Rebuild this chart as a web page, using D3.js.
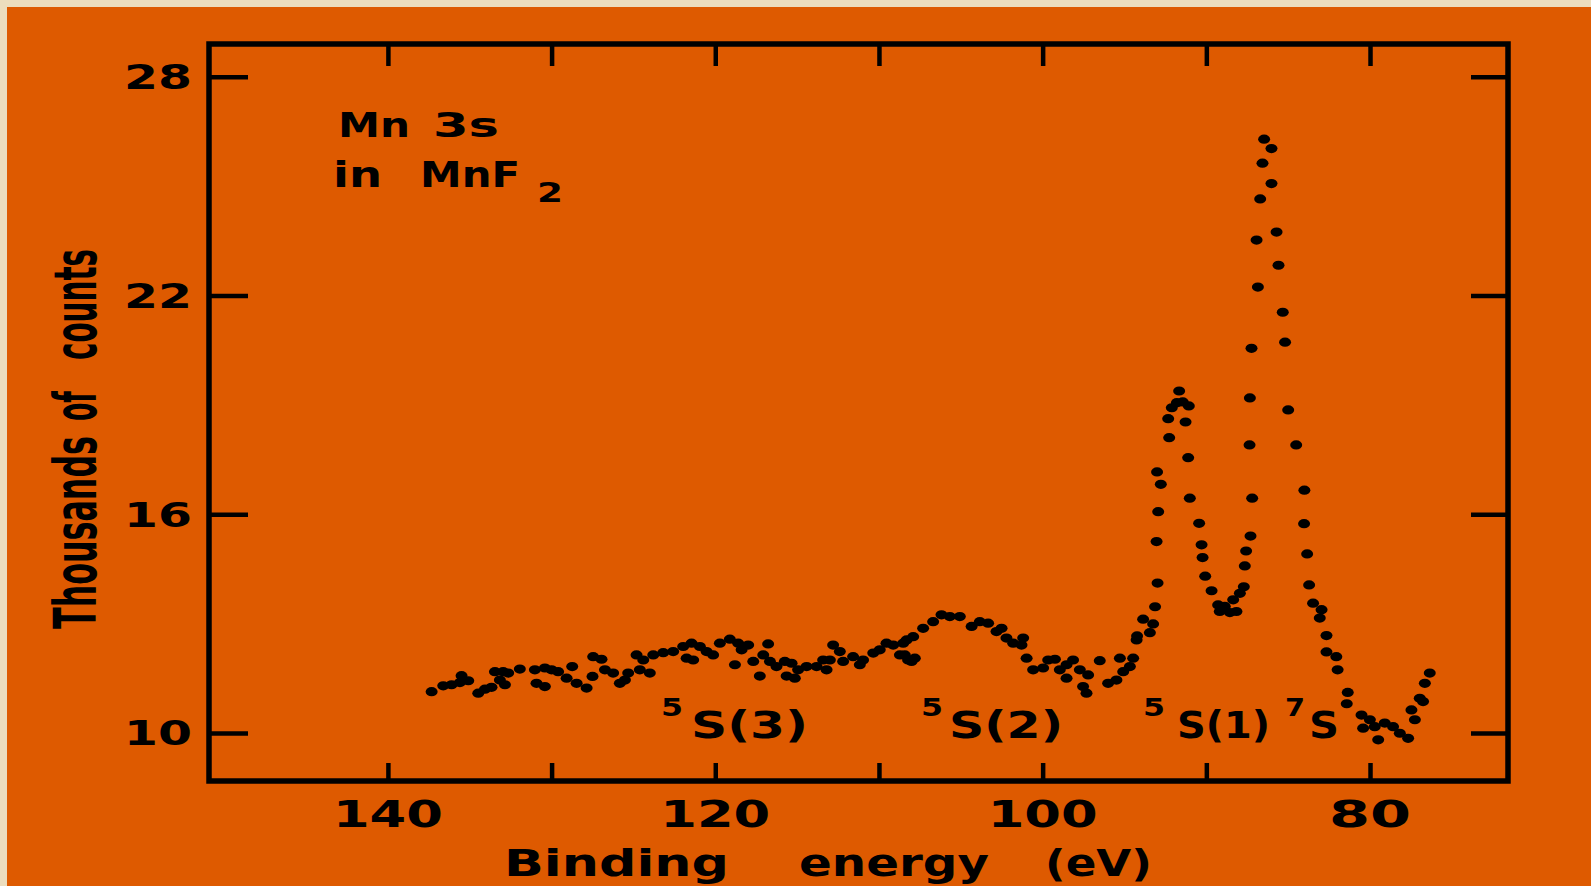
<!DOCTYPE html>
<html>
<head>
<meta charset="utf-8">
<script src="https://cdn.jsdelivr.net/npm/d3@7"></script>
<style>
  html, body { margin: 0; padding: 0; background: #ECDDBD; }
  svg { display: block; }
  text { font-family: "DejaVu Sans", sans-serif; font-weight: bold; fill: #000; }
</style>
</head>
<body>
<svg id="chart" width="1591" height="886"></svg>
<script>
// ---- data ----
const energy = [137.33,136.62,136.11,135.60,135.50,135.09,134.48,134.07,133.67,133.46,
133.16,132.96,132.85,132.65,131.94,131.02,130.92,130.41,130.41,130.00,
129.60,129.08,128.74,128.47,127.86,127.50,127.46,126.95,126.74,126.24,
125.83,125.52,125.32,124.81,124.61,124.40,124.00,123.79,123.18,
122.57,121.96,121.75,121.45,121.35,120.94,120.53,120.13,119.72,119.11,
118.80,118.60,118.39,117.99,117.68,117.28,117.07,116.77,116.66,116.26,
115.75,115.64,115.34,115.14,114.94,114.42,113.81,113.41,113.20,113.00,
112.80,112.39,112.19,111.58,111.17,110.97,110.35,109.95,109.54,109.13,
108.72,108.52,108.42,108.31,108.22,108.01,107.91,107.81,107.30,106.69,
106.18,105.67,105.06,104.34,103.84,103.33,102.82,102.51,102.21,101.80,
101.29,101.19,100.98,100.58,99.97,99.66,99.25,98.95,98.54,98.54,
98.14,97.73,97.53,97.32,97.22,96.51,96.00,95.49,95.28,95.08,
94.67,94.47,94.26,94.23,93.86,93.45,93.25,93.13,92.98,93.04,
92.94,92.78,93.01,92.27,92.33,92.11,91.80,91.66,91.44,91.07,
91.27,91.11,91.01,90.44,90.29,90.23,90.07,89.68,89.28,89.18,
88.87,88.56,88.36,88.16,87.95,87.71,87.65,87.57,87.30,87.20,
87.36,87.34,87.24,86.85,86.93,86.71,86.57,86.47,86.02,86.02,
85.71,85.59,85.33,85.19,85.00,84.51,84.01,84.03,83.84,83.72,
83.48,82.96,83.07,82.66,82.66,82.06,81.98,81.36,81.42,80.52,
80.42,80.01,79.71,79.50,79.10,78.59,78.18,77.67,77.47,77.26,
76.96,76.76,76.65,76.35];

const counts = [11.13,11.29,11.32,11.38,11.57,11.43,11.09,11.20,11.25,11.68,
11.45,11.68,11.32,11.64,11.75,11.73,11.36,11.78,11.27,11.73,
11.68,11.50,11.82,11.36,11.23,11.55,12.09,12.02,11.73,11.64,
11.36,11.45,11.64,12.14,11.73,12.00,11.64,12.14,12.20,
12.23,12.37,12.05,12.46,12.00,12.37,12.23,12.14,12.46,12.57,
11.87,12.46,12.28,12.41,11.96,11.56,12.14,12.44,11.96,11.82,
11.96,11.56,11.91,11.50,11.73,11.82,11.82,12.00,11.73,12.00,
12.41,12.23,11.96,12.09,11.87,12.00,12.19,12.28,12.46,12.41,
12.14,12.46,12.14,12.55,12.00,11.96,12.64,12.05,12.87,13.05,
13.24,13.19,13.19,12.92,13.05,13.01,12.78,12.87,12.60,12.46,
12.41,12.60,12.05,11.73,11.78,12.00,12.02,11.73,11.87,11.50,
12.00,11.73,11.27,11.09,11.59,11.98,11.36,11.45,12.05,11.68,
11.82,12.05,12.55,12.66,13.12,12.75,12.99,13.46,14.11,15.25,
16.07,16.82,17.16,18.10,18.62,18.92,19.06,19.38,19.08,18.97,
18.53,17.55,16.44,15.75,15.16,14.81,14.30,13.90,13.51,13.33,
13.47,13.30,13.65,13.33,13.83,14.01,14.58,14.99,15.40,16.44,
17.90,19.19,20.55,22.23,23.52,24.65,25.63,26.29,26.03,25.07,
23.74,22.83,21.54,20.72,18.86,17.90,16.66,15.74,14.91,14.06,
13.56,13.38,13.15,12.67,12.22,12.09,11.73,11.11,10.80,10.49,
10.13,10.36,10.17,9.81,10.27,10.17,9.99,9.85,10.63,10.36,
10.95,10.86,11.36,11.64];

const xTickValues = [140, 130, 120, 110, 100, 90, 80];
const xTickLabels = [140, 120, 100, 80];
const yTickValues = [28, 22, 16, 10];
const xTitleWords = ["Binding", "energy", "(eV)"];
const yTitleWords = ["Thousands", "of", "counts"];
const peakSup = ["5", "5", "5", "7"];
const peakNames = ["S(3)", "S(2)", "S(1)", "S"];

// ---- layout ----
const W = 1591, H = 886;
const L = 209, R = 1508, T = 44, B = 781;
const svg = d3.select("#chart");

svg.append("rect").attr("x", 0).attr("y", 0).attr("width", W).attr("height", H).attr("fill", "#ECDDBD");
svg.append("rect").attr("x", 7).attr("y", 7).attr("width", W - 7).attr("height", H - 7).attr("fill", "#DE5A00");

const x = d3.scaleLinear().domain([150.93, 71.57]).range([L, R]);
const y = d3.scaleLinear().domain([8.68, 28.9]).range([B, T]);

function styleAxis(g) {
  g.select(".domain").remove();
  g.selectAll(".tick line").attr("stroke", "#000").attr("stroke-width", 4.5);
  g.selectAll(".tick text").remove();
}
svg.append("g").attr("transform", `translate(0,${B})`)
  .call(d3.axisBottom(x).tickValues(xTickValues).tickSizeInner(-18).tickSizeOuter(0)).call(styleAxis);
svg.append("g").attr("transform", `translate(0,${T})`)
  .call(d3.axisTop(x).tickValues(xTickValues).tickSizeInner(-22).tickSizeOuter(0)).call(styleAxis);
svg.append("g").attr("transform", `translate(${L},0)`)
  .call(d3.axisLeft(y).tickValues(yTickValues).tickSizeInner(-39).tickSizeOuter(0)).call(styleAxis);
svg.append("g").attr("transform", `translate(${R},0)`)
  .call(d3.axisRight(y).tickValues(yTickValues).tickSizeInner(-37).tickSizeOuter(0)).call(styleAxis);

// frame
svg.append("rect").attr("x", L).attr("y", T).attr("width", R - L).attr("height", B - T)
  .attr("fill", "none").attr("stroke", "#000").attr("stroke-width", 5.5);

// tick labels
svg.append("g").selectAll("text").data(yTickValues).join("text")
  .attr("x", 192).attr("y", d => y(d) + 12.5)
  .attr("text-anchor", "end").attr("font-size", 34)
  .attr("textLength", 68).attr("lengthAdjust", "spacingAndGlyphs")
  .text(d => d);
svg.append("g").selectAll("text").data(xTickLabels).join("text")
  .attr("x", d => x(d)).attr("y", 827)
  .attr("text-anchor", "middle").attr("font-size", 37)
  .attr("textLength", d => String(d).length === 3 ? 110 : 82).attr("lengthAdjust", "spacingAndGlyphs")
  .text(d => d);

// axis titles
const xTitleLayout = [[504, 225], [799, 190], [1045, 107]];
svg.append("g").selectAll("text").data(xTitleWords).join("text")
  .attr("x", (d, i) => xTitleLayout[i][0]).attr("y", 876)
  .attr("font-size", 38)
  .attr("textLength", (d, i) => xTitleLayout[i][1]).attr("lengthAdjust", "spacingAndGlyphs")
  .text(d => d);
const yTitleLayout = [[629, 193], [421, 30], [360, 111]];
svg.append("g").selectAll("text").data(yTitleWords).join("text")
  .attr("transform", (d, i) => `translate(96,${yTitleLayout[i][0]}) rotate(-90)`)
  .attr("font-size", 58)
  .attr("textLength", (d, i) => yTitleLayout[i][1]).attr("lengthAdjust", "spacingAndGlyphs")
  .text(d => d);

// annotation
function txt(s, xx, yy, size, len) {
  svg.append("text").attr("x", xx).attr("y", yy).attr("font-size", size)
    .attr("textLength", len).attr("lengthAdjust", "spacingAndGlyphs").text(s);
}
txt("Mn", 338, 137, 34, 72);
txt("3s", 433, 137, 34, 66);
txt("in", 333, 187, 36, 49);
txt("MnF", 420, 187, 36, 100);
txt("2", 537, 202, 26, 26);

// peak labels
const supLayout = [[661, 22], [921, 22], [1143, 22], [1285, 20]];
const nameLayout = [[691, 117], [949, 114], [1177, 93], [1309, 30]];
peakNames.forEach((n, i) => {
  txt(peakSup[i], supLayout[i][0], 716, 24, supLayout[i][1]);
  txt(n, nameLayout[i][0], 738, 37, nameLayout[i][1]);
});

// data points
const pts = energy.map((e, i) => ({ e, c: counts[i] }));
svg.append("g").selectAll("ellipse").data(pts).join("ellipse")
  .attr("cx", d => x(d.e)).attr("cy", d => y(d.c))
  .attr("rx", 6).attr("ry", 4.6).attr("fill", "#000");
</script>
</body>
</html>
